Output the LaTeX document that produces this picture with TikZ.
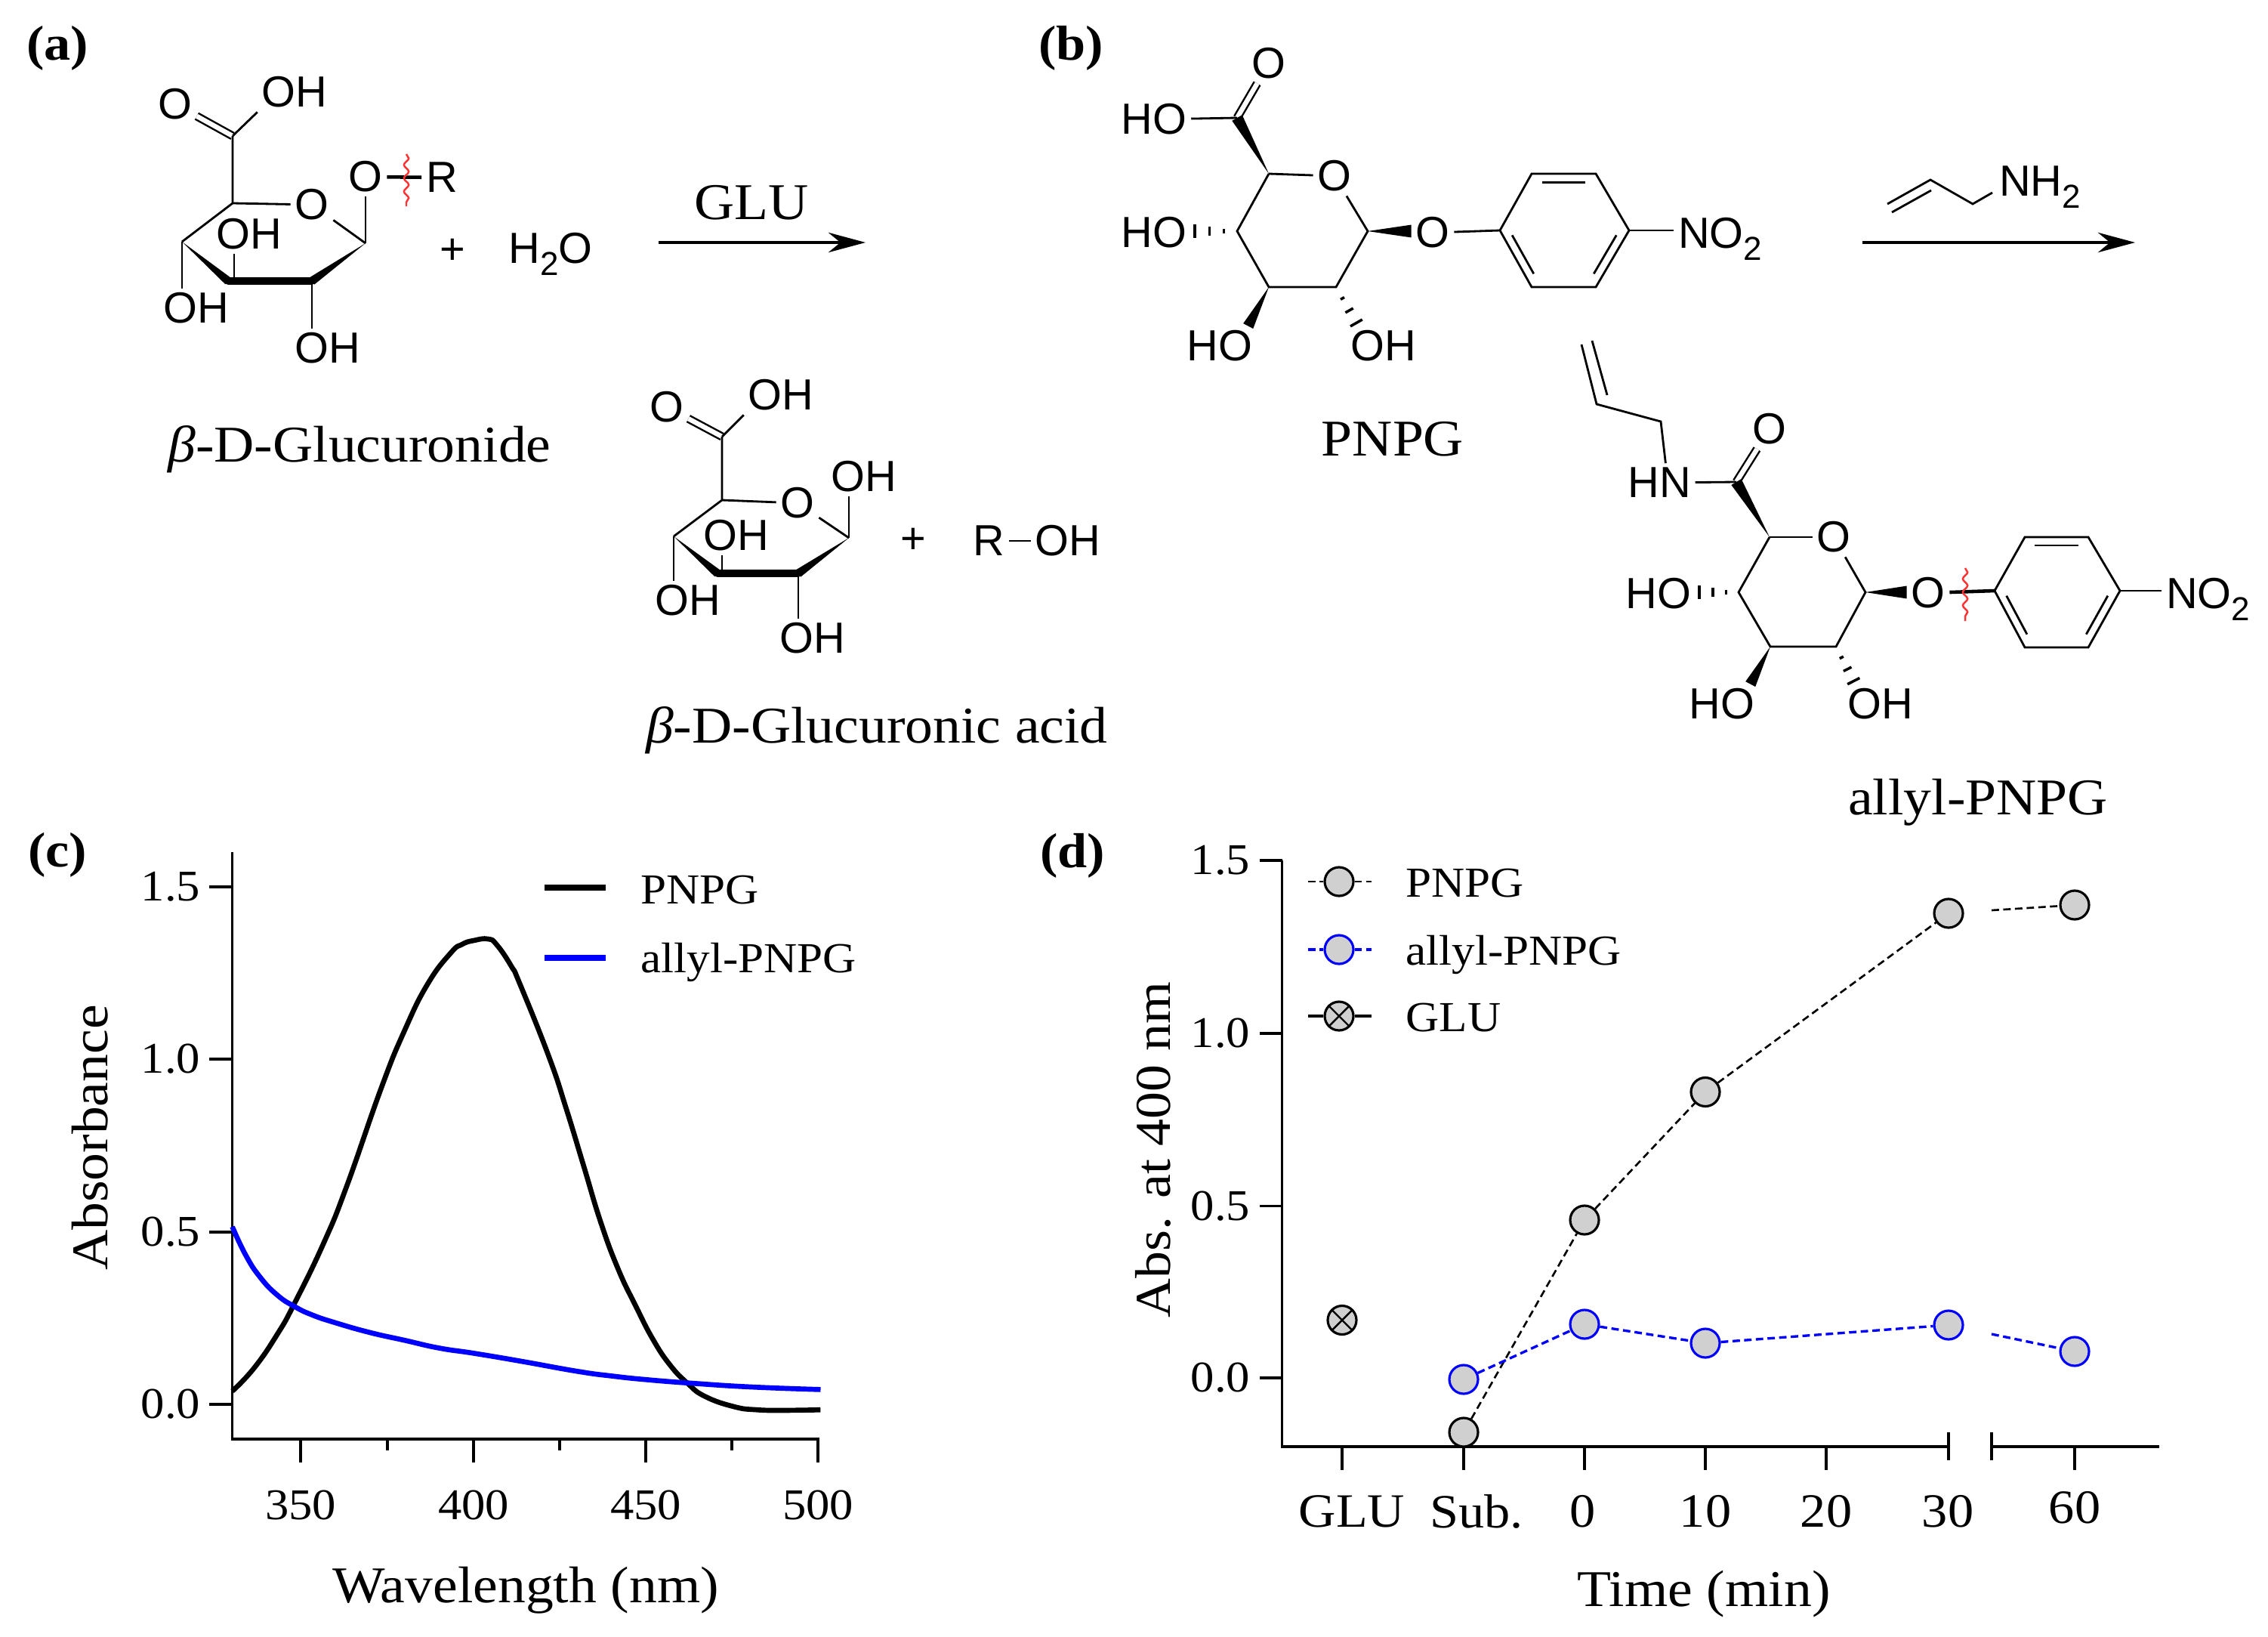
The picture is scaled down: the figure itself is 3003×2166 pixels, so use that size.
\documentclass[tikz,border=0pt]{standalone}
\usepackage{fontspec}
\setmainfont[FakeStretch=1.08]{Liberation Serif}
\newfontfamily\chemfont{Liberation Sans}
\usetikzlibrary{calc,arrows.meta,decorations.pathmorphing}
\definecolor{markgray}{HTML}{D0D0D0}
\definecolor{cutred}{HTML}{FF3333}
\newcommand{\chemsub}[1]{\raisebox{-0.28em}{\fontsize{12.5}{13}\selectfont #1}}
\newcommand{\wedgebond}[3][1.4pt]{\fill ($(#3)!#1!90:(#2)$) -- (#2) -- ($(#3)!#1!-90:(#2)$) -- cycle;}
\newcommand{\hashbond}[2]{\foreach \f in {0.29,0.6,0.92}{
		\coordinate (hh) at ($(#1)!\f!(#2)$);
		\draw[line width=1pt] ($(hh)!\f*2.8pt!90:(#2)$) -- ($(hh)!\f*2.8pt!-90:(#2)$);
	}}
\newcommand{\innerbond}[3]{\draw[bond] ($(#1)!0.1!(#2)!0.15!(#3)$) -- ($(#2)!0.1!(#1)!0.15!(#3)$);}
\tikzset{
	bond/.style={line width=0.8pt},
	dbond/.style={line width=0.7pt,double,double distance=1.8pt},
	boldbond/.style={line width=2.6pt,line cap=round},
	thickbond/.style={line width=1.3pt},
	cutline/.style={cutred,line width=0.7pt,decorate,decoration={snake,amplitude=0.9pt,segment length=5pt}},
	chem/.style={font=\chemfont\fontsize{16.4}{18}\selectfont,inner sep=1.5pt},
	lab/.style={font=\fontsize{19.4}{22}\selectfont,inner sep=0pt},
	num/.style={font=\fontsize{16.5}{18}\selectfont,inner sep=0pt},
	leg/.style={font=\fontsize{16.1}{18}\selectfont,inner sep=0pt},
	dnum/.style={font=\fontsize{18}{20}\selectfont,inner sep=0pt},
	panel/.style={font=\bfseries\fontsize{18.5}{22}\selectfont,inner sep=0pt},
	rxn/.style={line width=0.9pt,-{Stealth[length=14pt,width=7.5pt]}},
	axis/.style={line width=0.9pt},
	curve/.style={line width=1.9pt,smooth,tension=0.8},
	dashline/.style={line width=0.75pt,dash pattern=on 2.8pt off 1.6pt},
	bluedash/.style={blue,line width=0.95pt,dash pattern=on 2.8pt off 1.6pt},
	pnpgdot/.style={circle,draw,fill=markgray,line width=0.9pt,inner sep=0pt,minimum size=10.8pt},
	allyldot/.style={pnpgdot,draw=blue},
	gludot/.style={pnpgdot,path picture={
			\draw[line width=0.7pt] (path picture bounding box.north west)--(path picture bounding box.south east);
			\draw[line width=0.7pt] (path picture bounding box.north east)--(path picture bounding box.south west);
		}}
}
\begin{document}
\begin{tikzpicture}[x=0.01cm,y=-0.01cm]
	\useasboundingbox (0,0) rectangle (3003,2166);

	\node[panel] (pa) at (76,64) {(a)};
	\node[panel] (pb) at (1418,64) {(b)};
	\node[panel] (pc) at (76,1132) {(c)};
	\node[panel] (pd) at (1420,1133) {(d)};

	% glucuronide
	\coordinate (a6) at (308,180);
	\coordinate (a5) at (308,269);
	\coordinate (a1) at (484,322);
	\coordinate (a2) at (413,372);
	\coordinate (a3) at (302,372);
	\coordinate (a3b) at (310,372);
	\coordinate (a4) at (241,320);
	\node[chem] (a6o) at (232,138) {O};
	\node[chem] (a6oh) at (390,122) {OH};
	\node[chem] (a5o) at (413,271) {O};
	\node[chem] (a1o) at (484,234) {O};
	\node[chem] (a1r) at (585,235) {R};
	\node[chem] (a4oh) at (260,408) {OH};
	\node[chem] (a3oh) at (330,310) {OH};
	\node[chem] (a2oh) at (434,461) {OH};
	\draw[dbond] (a6) -- (a6o);
	\draw[bond] (a6) -- (a6oh.south west);
	\draw[bond] (a6) -- (a5) -- (a4);
	\draw[bond] (a5) -- (a5o);
	\draw[bond] (a5o) -- (a1);
	\draw[bond] (a1) -- (a1 |- a1o.south);
	\draw[bond] (a4) -- (a4 |- a4oh.north);
	\draw[bond] (a3b) -- (a3b |- a3oh.south);
	\draw[bond] (a2) -- (a2 |- a2oh.north);
	\wedgebond[1.6pt]{a1}{a2}
	\wedgebond[1.6pt]{a4}{a3}
	\draw[boldbond] (a2) -- (a3);
	\draw[thickbond] (a1o) -- (a1r);
	\coordinate (acut1) at (538,204);
	\coordinate (acut2) at (538,273);
	\draw[cutline] (acut1) -- (acut2);
	\node[chem] (aplus) at (599,333) {+};
	\node[chem] (h2o) at (729,336) {H\chemsub{2}O};
	\coordinate (ra1) at (872,321);
	\coordinate (ra2) at (1146,321);
	\draw[rxn] (ra1) -- node[lab,pos=0.45,above=8pt] (glutxt) {GLU} (ra2);
	\node[lab] (aname) at (476,595) {\textit{β}-D-Glucuronide};

	% glucuronic acid
	\coordinate (c6) at (956,578);
	\coordinate (c5) at (956,662);
	\coordinate (c1) at (1124,712);
	\coordinate (c2) at (1057,759);
	\coordinate (c3) at (950,759);
	\coordinate (c3b) at (956,759);
	\coordinate (c4) at (892,710);
	\node[chem] (c6o) at (883,539) {O};
	\node[chem] (c6oh) at (1034,523) {OH};
	\node[chem] (c5o) at (1056,666) {O};
	\node[chem] (c1oh) at (1144,631) {OH};
	\node[chem] (c4oh) at (911,795) {OH};
	\node[chem] (c3oh) at (975,709) {OH};
	\node[chem] (c2oh) at (1076,845) {OH};
	\draw[dbond] (c6) -- (c6o);
	\draw[bond] (c6) -- (c6oh.south west);
	\draw[bond] (c6) -- (c5) -- (c4);
	\draw[bond] (c5) -- (c5o);
	\draw[bond] (c5o) -- (c1);
	\draw[bond] (c1) -- (c1 |- c1oh.south);
	\draw[bond] (c4) -- (c4 |- c4oh.north);
	\draw[bond] (c3b) -- (c3b |- c3oh.south);
	\draw[bond] (c2) -- (c2 |- c2oh.north);
	\wedgebond[1.6pt]{c1}{c2}
	\wedgebond[1.6pt]{c4}{c3}
	\draw[boldbond] (c2) -- (c3);
	\node[chem] (cplus) at (1209,716) {+};
	\node[chem] (rr) at (1309,716) {R};
	\node[chem] (rroh) at (1414,716) {OH};
	\draw[bond] (rr) -- (rroh);
	\node[lab] (cname) at (1161,967) {\textit{β}-D-Glucuronic acid};

	% PNPG
	\coordinate (b6) at (1638,156);
	\coordinate (b5) at (1680,230);
	\coordinate (b1) at (1811,306);
	\coordinate (b2) at (1769,380);
	\coordinate (b3) at (1680,380);
	\coordinate (b4) at (1638,306);
	\node[chem] (b6o) at (1680,84) {O};
	\node[chem] (b6oh) at (1528,158) {HO};
	\node[chem] (b5o) at (1767,233) {O};
	\node[chem] (b4oh) at (1528,308) {HO};
	\node[chem] (b1o) at (1897,308) {O};
	\node[chem] (b3oh) at (1615,458) {HO};
	\node[chem] (b2oh) at (1832,458) {OH};
	\draw[dbond] (b6) -- (b6o);
	\draw[bond] (b6oh) -- (b6);
	\draw[bond] (b5) -- (b5o);
	\draw[bond] (b5o) -- (b1) -- (b2) -- (b3) -- (b4) -- (b5);
	\wedgebond[2.2pt]{b5}{b6}
	\wedgebond[2.4pt]{b1}{b1 -| b1o.west}
	\wedgebond[2.1pt]{b3}{b3oh.35}
	\hashbond{b4}{b4 -| b4oh.east}
	\hashbond{b2}{b2oh.142}
	\coordinate (bz1) at (1986,305);
	\coordinate (bz2) at (2028,230);
	\coordinate (bz3) at (2113,230);
	\coordinate (bz4) at (2157,305);
	\coordinate (bz5) at (2113,380);
	\coordinate (bz6) at (2028,380);
	\coordinate (bzc) at (2070,305);
	\draw[bond] (bz1) -- (bz2) -- (bz3) -- (bz4) -- (bz5) -- (bz6) -- cycle;
	\innerbond{bz2}{bz3}{bzc}
	\innerbond{bz1}{bz6}{bzc}
	\innerbond{bz4}{bz5}{bzc}
	\node[chem,anchor=base west] (bno) at (2216,328) {NO\chemsub{2}};
	\draw[bond] (b1o) -- (bz1);
	\draw[bond] (bz4) -- (bz4 -| bno.west);
	\node[lab] (bname) at (1844,581) {PNPG};
	\coordinate (al1) at (2499,270);
	\coordinate (al2) at (2556,238);
	\coordinate (al3) at (2612,270);
	\coordinate (al4) at (2638,255);
	\coordinate (al1b) at (2505,281);
	\coordinate (al2b) at (2557,252);
	\draw[bond] (al1) -- (al2) -- (al3) -- (al4);
	\draw[bond] (al1b) -- (al2b);
	\node[chem,anchor=base west] (nh2) at (2641,259) {NH\chemsub{2}};
	\coordinate (rb1) at (2466,321);
	\coordinate (rb2) at (2827,321);
	\draw[rxn] (rb1) -- (rb2);

	% allyl-PNPG
	\coordinate (dv1) at (2094,456);
	\coordinate (dv2) at (2114,535);
	\coordinate (dv3) at (2108,451);
	\coordinate (dv4) at (2128,523);
	\coordinate (dv5) at (2199,558);
	\coordinate (d6) at (2299,638);
	\coordinate (d5) at (2343,711);
	\coordinate (d1) at (2470,784);
	\coordinate (d2) at (2431,856);
	\coordinate (d3) at (2344,856);
	\coordinate (d4) at (2302,784);
	\node[chem] (dhn) at (2197,639) {HN};
	\node[chem] (d6o) at (2343,568) {O};
	\node[chem] (d5o) at (2428,711) {O};
	\node[chem] (d4oh) at (2196,786) {HO};
	\node[chem] (d1o) at (2553,785) {O};
	\node[chem] (d3oh) at (2280,932) {HO};
	\node[chem] (d2oh) at (2490,932) {OH};
	\draw[bond] (dv1) -- (dv2) -- (dv5) -- (dhn.72);
	\draw[bond] (dv3) -- (dv4);
	\draw[dbond] (d6) -- (d6o);
	\draw[bond] (dhn) -- (d6);
	\draw[bond] (d5) -- (d5o);
	\draw[bond] (d5o) -- (d1) -- (d2) -- (d3) -- (d4) -- (d5);
	\wedgebond[2.2pt]{d5}{d6}
	\wedgebond[2.4pt]{d1}{d1 -| d1o.west}
	\wedgebond[2.1pt]{d3}{d3oh.35}
	\hashbond{d4}{d4 -| d4oh.east}
	\hashbond{d2}{d2oh.142}
	\coordinate (dz1) at (2641,782);
	\coordinate (dz2) at (2681,711);
	\coordinate (dz3) at (2765,711);
	\coordinate (dz4) at (2807,782);
	\coordinate (dz5) at (2765,857);
	\coordinate (dz6) at (2681,857);
	\coordinate (dzc) at (2723,784);
	\draw[bond] (dz1) -- (dz2) -- (dz3) -- (dz4) -- (dz5) -- (dz6) -- cycle;
	\innerbond{dz2}{dz3}{dzc}
	\innerbond{dz1}{dz6}{dzc}
	\innerbond{dz4}{dz5}{dzc}
	\draw[thickbond] (d1o) -- (dz1);
	\node[chem,anchor=base west] (dno) at (2862,805) {NO\chemsub{2}};
	\draw[bond] (dz4) -- (dz4 -| dno.west);
	\coordinate (dcut1) at (2602,752);
	\coordinate (dcut2) at (2602,822);
	\draw[cutline] (dcut1) -- (dcut2);
	\node[lab] (dname) at (2619,1062) {allyl-PNPG};

	% plot c
	\coordinate (co) at (307.6,1905);
	\coordinate (ctop) at (307.6,1128);
	\coordinate (cend) at (1085,1905);
	\draw[axis] (ctop) -- (co) -- (cend);
	\foreach \y/\lab [count=\k] in {1174/1.5,1402/1.0,1631/0.5,1859/0.0}{
		\draw[axis] (277,\y) -- (307.6,\y);
		\node[num,anchor=east] (cy\k) at (266,\y) {\lab};
	}
	\foreach \x/\lab [count=\k] in {398/350,627/400,855/450,1083/500}{
		\draw[axis] (\x,1905) -- (\x,1936);
		\node[num] (cx\k) at (\x,1992) {\lab};
	}
	\foreach \x in {513,741,969}{
		\draw[axis] (\x,1905) -- (\x,1920);
	}
	\draw[curve] plot coordinates {(307.6,1841.5) (336.7,1810.6) (367.3,1766) (390.2,1724.8) (428.4,1645.9) (459,1570.4) (504.9,1440) (535.5,1364.5) (566.1,1302.8) (596.7,1261.6) (612,1250) (627.3,1245) (646.4,1243) (658,1251) (677,1279) (688.5,1302.8) (726.8,1398.8) (749.7,1467.5) (772.7,1543) (795.6,1618.5) (818.6,1680.2) (841.5,1728.3) (864.5,1772.9) (887.4,1807.2) (910.4,1831.2) (933.3,1848.4) (971.6,1862) (1002.2,1866.2) (1040.4,1866.9) (1086.3,1866.2)};
	\draw[curve,blue] plot coordinates {(307.6,1623.9) (325.1,1661) (344.3,1690.5) (367.3,1714.5) (390.2,1729.6) (413.2,1740.6) (443.8,1750.9) (489.7,1763.9) (535.6,1774.2) (581.5,1784.5) (627.4,1791.4) (688.6,1801.7) (765.2,1815.4) (811.1,1821.6) (856.9,1826.4) (918.2,1831.2) (994.7,1836) (1086.5,1839.4)};
	\coordinate (cl1) at (721,1175);
	\coordinate (cl2) at (802,1175);
	\coordinate (cl3) at (721,1268);
	\coordinate (cl4) at (802,1268);
	\draw[line width=2.2pt] (cl1) -- (cl2);
	\draw[line width=2.2pt,blue] (cl3) -- (cl4);
	\node[leg,anchor=west] (cl5) at (848,1178) {PNPG};
	\node[leg,anchor=west] (cl6) at (848,1274) {allyl-PNPG};
	\node[lab] (cxl) at (696,2105) {Wavelength (nm)};
	\node[lab,rotate=90] (cyl) at (119,1506) {Absorbance};

	% plot d
	\coordinate (do) at (1697.5,1915);
	\coordinate (dtop) at (1697.5,1139);
	\coordinate (dbr1) at (2580,1915);
	\coordinate (dbr2) at (2637,1915);
	\coordinate (dend) at (2859,1915);
	\draw[axis] (dtop) -- (do) -- (dbr1);
	\draw[axis] (dbr2) -- (dend);
	\draw[axis] (2580,1896) -- (2580,1933);
	\draw[axis] (2637,1896) -- (2637,1933);
	\foreach \y/\lab [count=\k] in {1139/1.5,1368/1.0,1596.5/0.5,1824/0.0}{
		\draw[axis] (1668,\y) -- (1697.5,\y);
		\node[num,anchor=east] (dy\k) at (1656,\y) {\lab};
	}
	\foreach \x in {1777,1938,2098,2258,2418,2747}{
		\draw[axis] (\x,1915) -- (\x,1946);
	}
	\node[dnum] (dx1) at (1790,2001) {GLU};
	\node[dnum] (dx2) at (1955,2001) {Sub.};
	\node[dnum] (dx3) at (2096,2001) {0};
	\node[dnum] (dx4) at (2258,2001) {10};
	\node[dnum] (dx5) at (2418,2001) {20};
	\node[dnum] (dx6) at (2579,2001) {30};
	\node[dnum] (dx7) at (2747,1996) {60};
	\node[lab] (dxl) at (2256,2110) {Time (min)};
	\node[lab,rotate=90,font=\fontsize{18.9}{22}\selectfont] (dyl) at (1527,1522) {Abs. at 400 nm};

	\node[pnpgdot] (p1) at (1938,1896) {};
	\node[pnpgdot] (p2) at (2098,1615) {};
	\node[pnpgdot] (p3) at (2258,1445.5) {};
	\node[pnpgdot] (p4) at (2580,1209) {};
	\node[pnpgdot] (p5) at (2747,1198) {};
	\coordinate (pbrk) at (2637,1205);
	\draw[dashline] (p1) -- (p2) -- (p3) -- (p4);
	\draw[dashline] (pbrk) -- (p5);
	\node[allyldot] (q1) at (1938,1826) {};
	\node[allyldot] (q2) at (2098,1753) {};
	\node[allyldot] (q3) at (2258,1778) {};
	\node[allyldot] (q4) at (2580,1754) {};
	\node[allyldot] (q5) at (2747,1789) {};
	\coordinate (qbrk) at (2637,1766);
	\draw[bluedash] (q1) -- (q2) -- (q3) -- (q4);
	\draw[bluedash] (qbrk) -- (q5);
	\node[gludot] (g1) at (1777,1747.5) {};

	\coordinate (dl1) at (1732,1167);
	\coordinate (dl2) at (1816,1167);
	\coordinate (dl3) at (1732,1257);
	\coordinate (dl4) at (1816,1257);
	\coordinate (dl5) at (1732,1345);
	\coordinate (dl6) at (1816,1345);
	\node[pnpgdot] (lp) at (1773,1167) {};
	\node[allyldot] (lq) at (1773,1257) {};
	\node[gludot] (lg) at (1773,1345) {};
	\draw[dashline] (dl1) -- (lp) -- (dl2);
	\draw[bluedash] (dl3) -- (lq) -- (dl4);
	\draw[axis] (dl5) -- (lg) -- (dl6);
	\node[leg,anchor=west] (lpt) at (1861,1169) {PNPG};
	\node[leg,anchor=west] (lqt) at (1861,1264) {allyl-PNPG};
	\node[leg,anchor=west] (lgt) at (1861,1347) {GLU};
\end{tikzpicture}
\end{document}
